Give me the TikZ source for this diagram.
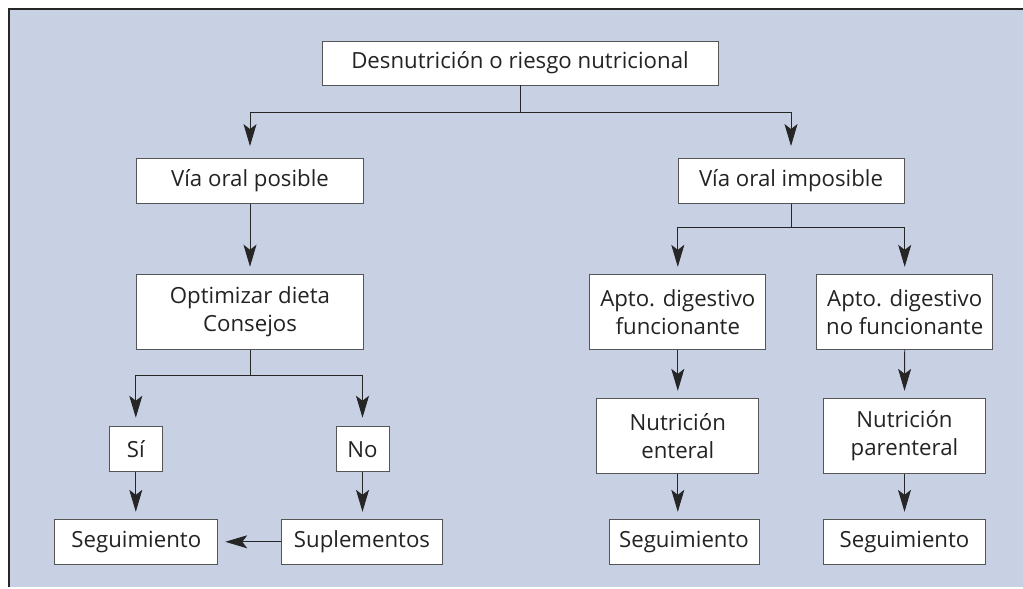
\documentclass[tikz,border=0pt]{standalone}
\usepackage{fontspec}
\setmainfont{Open Sans}
\usetikzlibrary{arrows.meta}
\definecolor{panel}{RGB}{200,209,228}
\definecolor{linec}{RGB}{38,38,38}
\definecolor{boxc}{RGB}{85,85,85}
\definecolor{txt}{RGB}{35,35,35}
\begin{document}
\begin{tikzpicture}[x=1bp,y=-1bp,
  box/.style={draw=boxc,line width=0.9bp,fill=white,inner sep=0pt,align=center,
    font=\fontsize{22.3}{28}\selectfont,text=txt},
  conn/.style={draw=linec,line width=0.9bp},
  arr/.style={conn,-{Stealth[length=22bp,width=13bp,inset=5bp]},shorten >=7bp}]
\useasboundingbox (0,0) rectangle (1023,589);
\fill[panel] (9,9) rectangle (1023,587);
\draw[line width=1.1bp,linec] (9,587) -- (9,9) -- (1023,9);

\node[box,minimum width=396bp,minimum height=44bp] (top) at (520,63) {Desnutrición o riesgo nutricional};
\node[box,minimum width=227bp,minimum height=45bp] (vop) at (250,181) {Vía oral posible};
\node[box,minimum width=226bp,minimum height=45bp] (voi) at (791,181) {Vía oral imposible};
\node[box,minimum width=227bp,minimum height=75bp] (opt) at (250,311.7) {Optimizar dieta\\Consejos};
\node[box,minimum width=53bp,minimum height=45bp] (si) at (135.8,449.2) {Sí};
\node[box,minimum width=53bp,minimum height=45bp] (no) at (362.5,449.2) {No};
\node[box,minimum width=163bp,minimum height=45bp] (segl) at (136.3,541.8) {Seguimiento};
\node[box,minimum width=161bp,minimum height=45bp] (supl) at (362,541.8) {Suplementos};
\node[box,minimum width=176bp,minimum height=75bp] (af) at (677.8,311.8) {Apto. digestivo\\funcionante};
\node[box,minimum width=176bp,minimum height=75bp] (anf) at (904.7,311.8) {Apto. digestivo\\no funcionante};
\node[box,minimum width=162bp,minimum height=75bp] (ne) at (677.8,435.8) {Nutrición\\enteral};
\node[box,minimum width=162bp,minimum height=75bp] (np) at (904.5,435.8) {Nutrición\\parenteral};
\node[box,minimum width=150bp,minimum height=45bp] (segm) at (684,541.8) {Seguimiento};
\node[box,minimum width=162bp,minimum height=45bp] (segr) at (904.5,541.8) {Seguimiento};

\draw[conn] (top.south) -- ++(0,27) coordinate (j1);
\draw[arr,shorten >=12bp] (j1) -| (vop.north);
\draw[arr,shorten >=12bp] (j1) -| (voi.north);
\draw[arr] (vop.south) -- (opt.north);
\draw[conn] (opt.south) -- ++(0,26) coordinate (j2);
\draw[arr,shorten >=8.5bp] (j2) -| (si.north);
\draw[arr,shorten >=8.5bp] (j2) -| (no.north);
\draw[arr] (si.south) -- (si.south |- segl.north);
\draw[arr] (no.south) -- (no.south |- supl.north);
\draw[arr] (supl.west) -- (segl.east);
\draw[conn] (voi.south) -- ++(0,24) coordinate (j3);
\draw[arr] (j3) -| (af.north);
\draw[arr] (j3) -| (anf.north);
\draw[arr] (af.south) -- (ne.north);
\draw[arr] (anf.south) -- (np.north);
\draw[arr] (ne.south) -- (ne.south |- segm.north);
\draw[arr] (np.south) -- (np.south |- segr.north);
\end{tikzpicture}
\end{document}
